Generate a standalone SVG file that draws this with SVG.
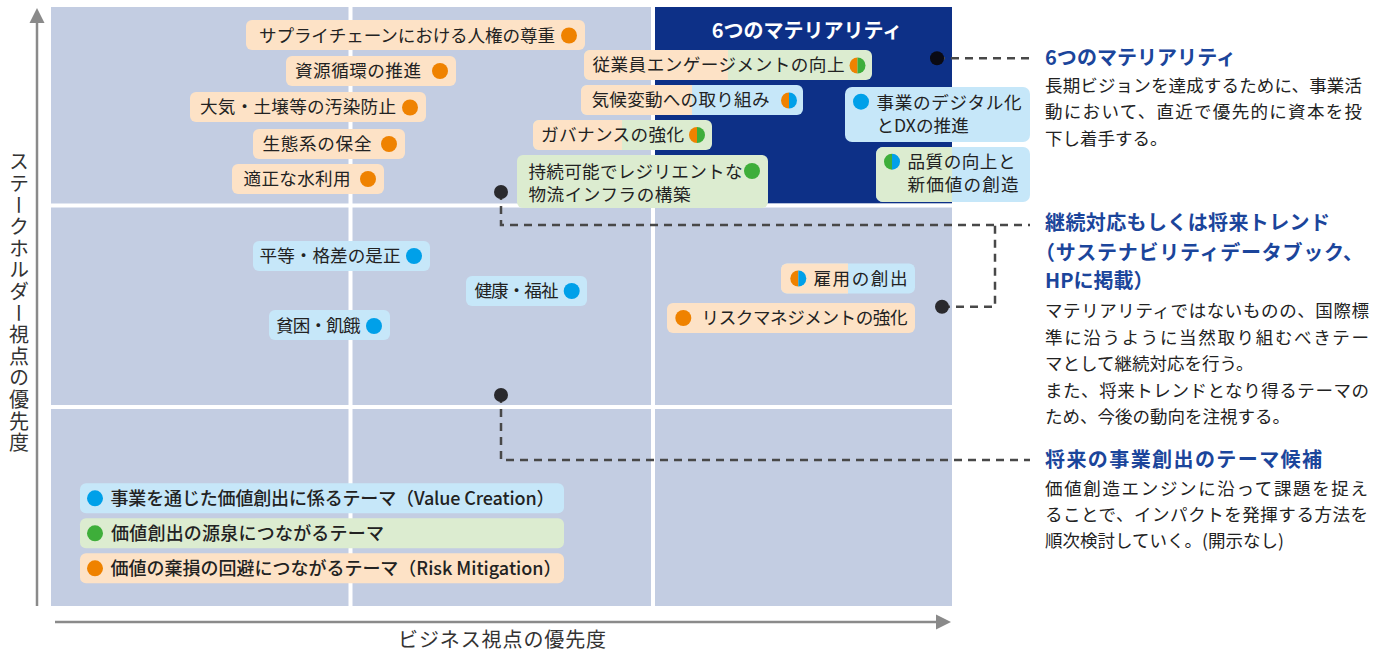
<svg xmlns="http://www.w3.org/2000/svg" xmlns:xlink="http://www.w3.org/1999/xlink" width="1387" height="653" viewBox="0 0 1387 653">
<style>
text{font-family:"Noto Sans CJK JP","Noto Sans",sans-serif;fill:#222;}
.lb{font-size:17.6px;}
.lg{font-size:18px;font-weight:500;}
.hd{font-size:20px;font-weight:bold;fill:#1b459b;}
.bd{font-size:17.5px;}
.ax{font-size:20px;fill:#333;}
.o{fill:#fde2c6;}
.g{fill:#dcecd0;}
.b{fill:#c6e7f9;}
.od{fill:#ef8200;}
.gd{fill:#3eae3a;}
.bdot{fill:#00a0e9;}
.dash{fill:none;stroke:#484848;stroke-width:2.5;stroke-dasharray:8 6;}
.pt{fill:#2a2a2e;}
</style>
<defs>
<path id="hl" d="M0,-8A8,8 0 0 0 0,8Z"/>
<path id="hr" d="M0,-8A8,8 0 0 1 0,8Z"/>
</defs>
<rect width="1387" height="653" fill="#fff"/>
<g id="grid">
<rect x="51" y="7" width="901" height="599" fill="#c3cde2"/>
<rect x="655" y="7" width="297" height="196.5" fill="#0d3087"/>
<rect x="348.5" y="7" width="4" height="599" fill="#fff"/>
<rect x="651" y="7" width="4" height="599" fill="#fff"/>
<rect x="51" y="203.5" width="901" height="4" fill="#fff"/>
<rect x="51" y="405" width="901" height="4" fill="#fff"/>
<text x="807" y="38" text-anchor="middle" style="font-size:20px;font-weight:bold;fill:#fff">6つのマテリアリティ</text>
</g>
<g id="axes">
<line x1="37" y1="606" x2="37" y2="20" stroke="#8a8a8a" stroke-width="2.5"/>
<polygon points="37,8 29.5,23 44.5,23" fill="#8a8a8a"/>
<line x1="55" y1="622" x2="938" y2="622" stroke="#8a8a8a" stroke-width="2.5"/>
<polygon points="951,622 936,614.5 936,629.5" fill="#8a8a8a"/>
<text class="ax" x="19" y="303" text-anchor="middle" style="writing-mode:vertical-rl;letter-spacing:1.6px">ステークホルダー視点の優先度</text>
<text class="ax" x="502.5" y="647" text-anchor="middle" style="letter-spacing:0.9px">ビジネス視点の優先度</text>
</g>
<g id="connectors">
<path class="dash" d="M937,58.3H1030"/>
<path class="dash" d="M501,192V225H1030"/>
<path class="dash" d="M942,306.7H995V225"/>
<path class="dash" d="M501,395V460H1030"/>
<circle cx="937" cy="58.3" r="7" fill="#0a0a14"/>
<circle class="pt" cx="501" cy="192" r="7"/>
<circle class="pt" cx="942" cy="306.7" r="7"/>
<circle class="pt" cx="501" cy="395" r="7"/>
</g>
<g id="n1"><rect class="o" x="246" y="20" width="339" height="30" rx="6"/><text class="lb" x="259" y="41.5" textLength="296" lengthAdjust="spacing">サプライチェーンにおける人権の尊重</text><circle class="od" cx="569" cy="35.5" r="8"/></g>
<g id="n2"><rect class="o" x="286" y="56" width="170" height="30" rx="6"/><text class="lb" x="295" y="77" textLength="126" lengthAdjust="spacing">資源循環の推進</text><circle class="od" cx="440" cy="71" r="8"/></g>
<g id="n3"><rect class="o" x="190" y="92" width="236" height="30" rx="6"/><text class="lb" x="200" y="113" textLength="196" lengthAdjust="spacing">大気・土壌等の汚染防止</text><circle class="od" cx="410" cy="107.5" r="8"/></g>
<g id="n4"><rect class="o" x="253" y="129" width="152" height="30" rx="6"/><text class="lb" x="262.5" y="150" textLength="109" lengthAdjust="spacing">生態系の保全</text><circle class="od" cx="389" cy="144" r="8"/></g>
<g id="n5"><rect class="o" x="232" y="164" width="152" height="30" rx="6"/><text class="lb" x="243.5" y="185" textLength="107" lengthAdjust="spacing">適正な水利用</text><circle class="od" cx="368" cy="179" r="8"/></g>
<g id="n6"><rect class="g" x="584" y="50" width="288" height="30" rx="6"/><path class="o" d="M590,50H728V80H590A6,6 0 0 1 584,74V56A6,6 0 0 1 590,50Z"/><text class="lb" x="592.5" y="71" textLength="252" lengthAdjust="spacing">従業員エンゲージメントの向上</text><use href="#hl" x="857.5" y="65.5" class="od"/><use href="#hr" x="857.5" y="65.5" class="gd"/></g>
<g id="n7"><rect class="b" x="581" y="85" width="222" height="30" rx="6"/><path class="o" d="M587,85H692V115H587A6,6 0 0 1 581,109V91A6,6 0 0 1 587,85Z"/><text class="lb" x="591.5" y="106" textLength="178" lengthAdjust="spacing">気候変動への取り組み</text><use href="#hl" x="789" y="100.5" class="od"/><use href="#hr" x="789" y="100.5" class="bdot"/></g>
<g id="n8"><rect class="g" x="533" y="120" width="179" height="30" rx="6"/><path class="o" d="M539,120H622V150H539A6,6 0 0 1 533,144V126A6,6 0 0 1 539,120Z"/><text class="lb" x="541" y="141" textLength="143" lengthAdjust="spacing">ガバナンスの強化</text><use href="#hl" x="697" y="135" class="od"/><use href="#hr" x="697" y="135" class="gd"/></g>
<g id="n9"><rect class="g" x="517" y="155" width="251" height="53" rx="6"/><text class="lb" x="528.5" y="177.5" textLength="214" lengthAdjust="spacing">持続可能でレジリエントな</text><text class="lb" x="528.5" y="200.5" textLength="162" lengthAdjust="spacing">物流インフラの構築</text><circle class="gd" cx="752" cy="171" r="8"/></g>
<g id="n10"><rect class="b" x="845" y="87" width="185" height="55" rx="7"/><circle class="bdot" cx="861" cy="101.7" r="8"/><text class="lb" x="876.5" y="108.5" textLength="145" lengthAdjust="spacing">事業のデジタル化</text><text class="lb" x="876.5" y="131.5">とDXの推進</text></g>
<g id="n11"><rect class="b" x="876" y="147" width="154" height="55" rx="7"/><path class="g" d="M883,147H952V202H883A7,7 0 0 1 876,195V154A7,7 0 0 1 883,147Z"/><use href="#hl" x="892" y="161.7" class="gd"/><use href="#hr" x="892" y="161.7" class="bdot"/><text class="lb" x="907.5" y="168" textLength="108" lengthAdjust="spacing">品質の向上と</text><text class="lb" x="907.5" y="191" textLength="111" lengthAdjust="spacing">新価値の創造</text></g>
<g id="n12"><rect class="b" x="253" y="241" width="177" height="30" rx="6"/><text class="lb" x="259.5" y="262" textLength="141" lengthAdjust="spacing">平等・格差の是正</text><circle class="bdot" cx="414" cy="256" r="8"/></g>
<g id="n13"><rect class="b" x="466" y="276" width="121" height="30" rx="6"/><text class="lb" x="474.5" y="297" textLength="84" lengthAdjust="spacing">健康・福祉</text><circle class="bdot" cx="571.7" cy="291" r="8"/></g>
<g id="n14"><rect class="b" x="269" y="310" width="121" height="30" rx="6"/><text class="lb" x="276" y="331.5" textLength="84.5" lengthAdjust="spacing">貧困・飢餓</text><circle class="bdot" cx="374" cy="326" r="8"/></g>
<g id="n15"><rect class="b" x="781" y="263.5" width="134" height="30" rx="6"/><path class="o" d="M787,263.5H848V293.5H787A6,6 0 0 1 781,287.5V269.5A6,6 0 0 1 787,263.5Z"/><use href="#hl" x="798.3" y="278.5" class="od"/><use href="#hr" x="798.3" y="278.5" class="bdot"/><text class="lb" x="813.5" y="284.5" textLength="94" lengthAdjust="spacing">雇用の創出</text></g>
<g id="n16"><rect class="o" x="667" y="303" width="248" height="30" rx="6"/><circle class="od" cx="683.3" cy="318" r="8"/><text class="lb" x="701.5" y="324" textLength="206" lengthAdjust="spacing">リスクマネジメントの強化</text></g>
<g id="legend">
<rect class="b" x="80" y="483.3" width="484" height="30" rx="6"/><circle class="bdot" cx="95" cy="498.3" r="8"/><text class="lg" x="110.5" y="504.5" textLength="444" lengthAdjust="spacing">事業を通じた価値創出に係るテーマ（Value Creation）</text>
<rect class="g" x="80" y="518.3" width="484" height="30" rx="6"/><circle class="gd" cx="95" cy="533.3" r="8"/><text class="lg" x="111" y="539.5" textLength="273" lengthAdjust="spacing">価値創出の源泉につながるテーマ</text>
<rect class="o" x="80" y="553.3" width="484" height="30" rx="6"/><circle class="od" cx="95" cy="568.3" r="8"/><text class="lg" x="110.5" y="574.5" textLength="451" lengthAdjust="spacing">価値の棄損の回避につながるテーマ（Risk Mitigation）</text>
</g>
<g id="desc1">
<text class="hd" x="1045" y="64.5" textLength="191" lengthAdjust="spacing">6つのマテリアリティ</text>
<text class="bd" x="1045" y="91.5" textLength="317" lengthAdjust="spacing">長期ビジョンを達成するために、事業活</text>
<text class="bd" x="1045" y="118" textLength="317" lengthAdjust="spacing">動において、直近で優先的に資本を投</text>
<text class="bd" x="1045" y="144.5">下し着手する。</text>
</g>
<g id="desc2">
<text class="hd" x="1045" y="230" textLength="285" lengthAdjust="spacing">継続対応もしくは将来トレンド</text>
<text class="hd" x="1035" y="259.5" textLength="328" lengthAdjust="spacing">（サステナビリティデータブック、</text>
<text class="hd" x="1045" y="288">HPに掲載）</text>
<text class="bd" x="1045" y="317" textLength="324" lengthAdjust="spacing">マテリアリティではないものの、国際標</text>
<text class="bd" x="1045" y="343.5" textLength="324" lengthAdjust="spacing">準に沿うように当然取り組むべきテー</text>
<text class="bd" x="1045" y="370">マとして継続対応を行う。</text>
<text class="bd" x="1045" y="396.5" textLength="324" lengthAdjust="spacing">また、将来トレンドとなり得るテーマの</text>
<text class="bd" x="1045" y="423">ため、今後の動向を注視する。</text>
</g>
<g id="desc3">
<text class="hd" x="1045" y="467" textLength="277" lengthAdjust="spacing">将来の事業創出のテーマ候補</text>
<text class="bd" x="1045" y="495" textLength="323" lengthAdjust="spacing">価値創造エンジンに沿って課題を捉え</text>
<text class="bd" x="1045" y="521" textLength="323" lengthAdjust="spacing">ることで、インパクトを発揮する方法を</text>
<text class="bd" x="1045" y="547">順次検討していく。(開示なし)</text>
</g>
</svg>
